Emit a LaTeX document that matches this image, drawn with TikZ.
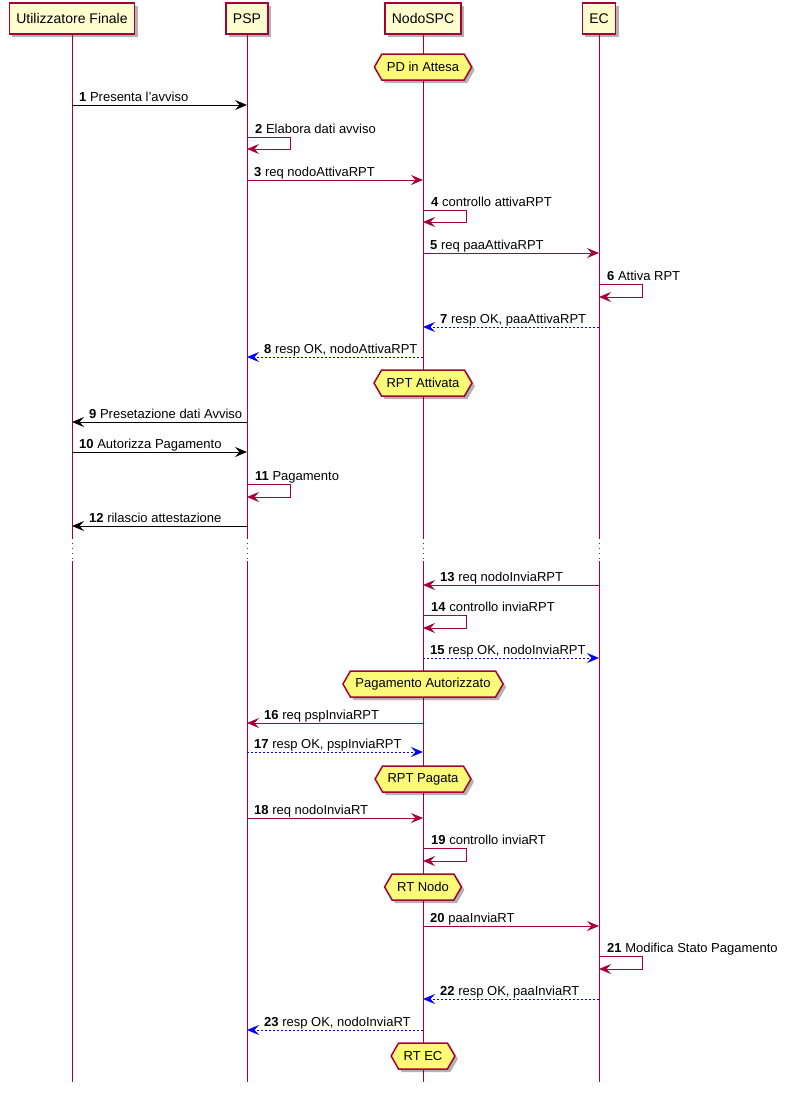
\documentclass[tikz,border=0pt]{standalone}
\usepackage{fontspec}
\setmainfont{Liberation Sans}
\usetikzlibrary{arrows.meta,shapes.symbols,shadows,calc}
\definecolor{crim}{HTML}{A80036}
\definecolor{pfill}{HTML}{FEFECE}
\definecolor{hfill}{HTML}{FBFB77}
\definecolor{rblue}{HTML}{0000FF}
\tikzset{
  shad/.style={drop shadow={shadow xshift=3pt, shadow yshift=-3pt, opacity=0.3, fill=black}},
  part/.style={draw=crim, fill=pfill, line width=1.5pt, minimum height=31pt, inner xsep=7pt,
    font=\fontsize{14}{16}\selectfont, shad},
  hexa/.style={shape=signal, signal to=west and east, signal pointer angle=120, draw=crim,
    fill=hfill, line width=1.5pt, minimum height=26pt, inner xsep=5pt, inner ysep=0pt,
    font=\fontsize{13}{15}\selectfont, shad},
  life/.style={draw=crim, line width=1pt},
  lifedot/.style={draw=crim, line width=1pt, dash pattern=on 1pt off 4pt},
  tipped/.style={-{Stealth[length=12pt,width=10pt,inset=4.5pt]}},
  callc/.style={draw=crim, line width=1pt, tipped},
  callk/.style={draw=black, line width=1pt, tipped},
  resp/.style={draw=rblue, line width=1pt, dash pattern=on 2pt off 2pt, tipped},
  lbl/.style={anchor=base west, inner sep=0pt, font=\fontsize{13}{15}\selectfont},
}
% right-going message: from, to, y, style, number, text
\newcommand\msgR[6]{%
  \draw[#4] (#1 |- 0,#3) -- (#2 |- 0,#3);
  \node[lbl] (l#5) at ($(#1 |- 0,#3)+(7,-4)$) {\textbf{#5} #6};}
% left-going message: from, to, y, style, number, text
\newcommand\msgL[6]{%
  \draw[#4] (#1 |- 0,#3) -- (#2 |- 0,#3);
  \node[lbl] (l#5) at ($(#2 |- 0,#3)+(17,-4)$) {\textbf{#5} #6};}
% self message: lifeline, ytop, ybottom, style, number, text
\newcommand\msgS[6]{%
  \draw[#4] (#1 |- 0,#2) -- ++(43,0) |- (#1 |- 0,#3);
  \node[lbl] (l#5) at ($(#1 |- 0,#2)+(8,-4)$) {\textbf{#5} #6};}
\begin{document}
\begin{tikzpicture}[x=1pt, y=-1pt]
\fill[white] (0,0) rectangle (789,1093);
\useasboundingbox (0,0) rectangle (789,1093);

\node[part] (UF) at (72,18.5) {Utilizzatore Finale};
\node[part] (PSP) at (247,18.5) {PSP};
\node[part] (NODO) at (423,18.5) {NodoSPC};
\node[part] (EC) at (599,18.5) {EC};

\foreach \p in {UF,PSP,NODO,EC}{
  \draw[life] (\p.south) -- (\p |- 0,538);
  \draw[lifedot] (\p |- 0,538) -- (\p |- 0,561);
  \draw[life] (\p |- 0,561) -- (\p |- 0,1082);
}

\node[hexa] (h1) at (423,67) {PD in Attesa};
\msgR{UF}{PSP}{105}{callk}{1}{Presenta l'avviso}
\msgS{PSP}{137}{149}{callc}{2}{Elabora dati avviso}
\msgR{PSP}{NODO}{180}{callc}{3}{req nodoAttivaRPT}
\msgS{NODO}{210}{222}{callc}{4}{controllo attivaRPT}
\msgR{NODO}{EC}{253}{callc}{5}{req paaAttivaRPT}
\msgS{EC}{284}{297}{callc}{6}{Attiva RPT}
\msgL{EC}{NODO}{327}{resp}{7}{resp OK, paaAttivaRPT}
\msgL{NODO}{PSP}{357}{resp}{8}{resp OK, nodoAttivaRPT}
\node[hexa] (h2) at (423,383) {RPT Attivata};
\msgL{PSP}{UF}{422}{callk}{9}{Presetazione dati Avviso}
\msgR{UF}{PSP}{452}{callk}{10}{Autorizza Pagamento}
\msgS{PSP}{484}{497}{callc}{11}{Pagamento}
\msgL{PSP}{UF}{526}{callk}{12}{rilascio attestazione}
\msgL{EC}{NODO}{585}{callc}{13}{req nodoInviaRPT}
\msgS{NODO}{615}{628}{callc}{14}{controllo inviaRPT}
\msgR{NODO}{EC}{658}{resp}{15}{resp OK, nodoInviaRPT}
\node[hexa] (h3) at (423,684) {Pagamento Autorizzato};
\msgL{NODO}{PSP}{723}{callc}{16}{req pspInviaRPT}
\msgR{PSP}{NODO}{752}{resp}{17}{resp OK, pspInviaRPT}
\node[hexa] (h4) at (423,779) {RPT Pagata};
\msgR{PSP}{NODO}{818}{callc}{18}{req nodoInviaRT}
\msgS{NODO}{848}{861}{callc}{19}{controllo inviaRT}
\node[hexa] (h5) at (423,887) {RT Nodo};
\msgR{NODO}{EC}{926}{callc}{20}{paaInviaRT}
\msgS{EC}{956}{969}{callc}{21}{Modifica Stato Pagamento}
\msgL{EC}{NODO}{999}{resp}{22}{resp OK, paaInviaRT}
\msgL{NODO}{PSP}{1030}{resp}{23}{resp OK, nodoInviaRT}
\node[hexa] (h6) at (423,1056) {RT EC};
\end{tikzpicture}
\end{document}
